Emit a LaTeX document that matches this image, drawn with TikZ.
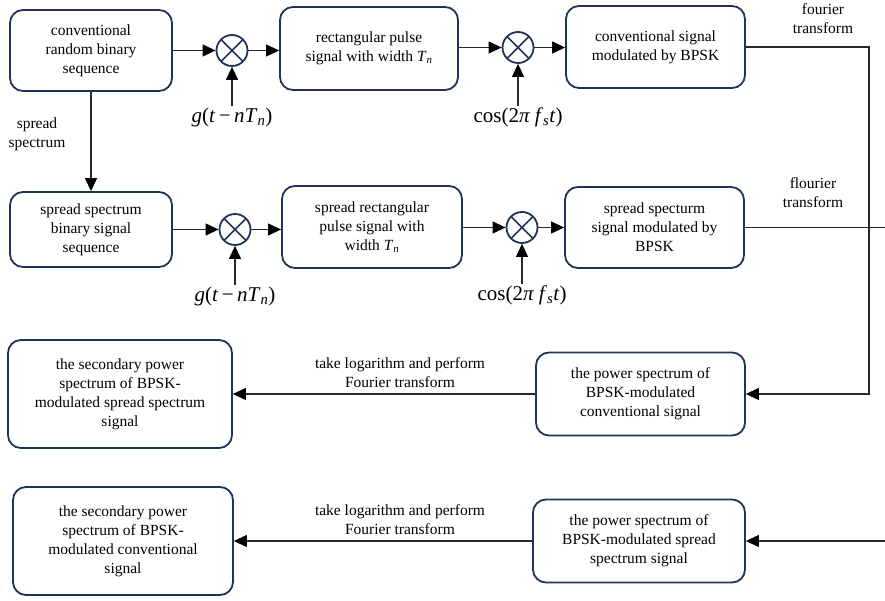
\documentclass[tikz,border=0pt]{standalone}
\usepackage{fontspec}
\setmainfont{Liberation Serif}
\newfontfamily\tnr{Liberation Serif}
\usetikzlibrary{arrows.meta}
\definecolor{navy}{RGB}{32,52,90}
\definecolor{linegray}{RGB}{40,40,40}
\begin{document}
\begin{tikzpicture}[x=1pt,y=-1pt,
  box/.style={draw=navy,line width=1.8pt,rounded corners=13pt,align=center,
    font=\tnr\fontsize{15.5}{19}\selectfont,inner sep=2pt},
  mult/.style={draw=navy,line width=1.8pt,circle,minimum size=31pt,inner sep=0pt,
    path picture={\draw[navy,line width=1.5pt]
      (path picture bounding box.north west)--(path picture bounding box.south east)
      (path picture bounding box.north east)--(path picture bounding box.south west);}},
  lbl/.style={align=center,font=\tnr\fontsize{15.5}{19}\selectfont,inner sep=1pt},
  mlbl/.style={font=\tnr\fontsize{21}{24}\selectfont,inner sep=1pt},
  conn/.style={draw=linegray,line width=1.1pt},
  arr/.style={conn,-{Triangle[length=13pt,width=12pt,fill=black,color=black]}}]
\useasboundingbox (0,0) rectangle (885,601);
% row 1
\node[box,minimum width=162pt,minimum height=81pt] (A) at (91,50.5) {conventional\\random binary\\sequence};
\node[mult] (m1) at (232,50.5) {};
\node[box,minimum width=178pt,minimum height=83pt] (B) at (369,48.5) {rectangular pulse\\signal with width \textit{T}\textsubscript{\textit{n}}};
\node[mult] (m2) at (518,47.5) {};
\node[box,minimum width=179pt,minimum height=82pt] (C) at (655.5,47) {conventional signal\\modulated by BPSK};
\node[mlbl] (g1) at (232,117) {\textit{g}(\textit{t}\,−\,\textit{nT}\textsubscript{\textit{n}})};
\node[mlbl] (c1) at (518,117) {cos(2\textit{π f}\textsubscript{\textit{s}}\textit{t})};
\node[lbl] (ft1) at (823,19) {fourier\\transform};
% row 2
\node[box,minimum width=162pt,minimum height=75pt] (D) at (91,229.5) {spread spectrum\\binary signal\\sequence};
\node[mult] (m3) at (235,229.5) {};
\node[box,minimum width=180pt,minimum height=82pt] (E) at (372,227) {spread rectangular\\pulse signal with\\width \textit{T}\textsubscript{\textit{n}}};
\node[mult] (m4) at (522,227.5) {};
\node[box,minimum width=179pt,minimum height=81pt] (F) at (654.5,227.5) {spread specturm\\signal modulated by\\BPSK};
\node[mlbl] (g2) at (235,296) {\textit{g}(\textit{t}\,−\,\textit{nT}\textsubscript{\textit{n}})};
\node[mlbl] (c2) at (522,295) {cos(2\textit{π f}\textsubscript{\textit{s}}\textit{t})};
\node[lbl] (ft2) at (813,193) {flourier\\transform};
\node[lbl] (ss) at (37,134) {spread\\spectrum};
% row 3
\node[box,minimum width=224pt,minimum height=108pt] (G) at (120,394) {the secondary power\\spectrum of BPSK-\\modulated spread spectrum\\signal};
\node[box,minimum width=209pt,minimum height=83pt] (H) at (640.5,394) {the power spectrum of\\BPSK-modulated\\conventional signal};
\node[lbl] (t1) at (400,373) {take logarithm and perform\\Fourier transform};
% row 4
\node[box,minimum width=220pt,minimum height=108pt] (I) at (123,541) {the secondary power\\spectrum of BPSK-\\modulated conventional\\signal};
\node[box,minimum width=212pt,minimum height=83pt] (J) at (639,541) {the power spectrum of\\BPSK-modulated spread\\spectrum signal};
\node[lbl] (t2) at (400,520) {take logarithm and perform\\Fourier transform};
% coordinates
\coordinate (r1) at (869,47);
\coordinate (r2) at (885,227.5);
\coordinate (r4) at (885,541);
% connectors
\draw[arr] (A.east |- m1) -- (m1);
\draw[arr] (m1) -- (m1 -| B.west);
\draw[arr] (B.east |- m2) -- (m2);
\draw[arr] (m2) -- (m2 -| C.west);
\draw[arr] (g1.north) -- (m1.south);
\draw[arr] (c1.north) -- (m2.south);
\draw[arr] (A.south) -- (D.north);
\draw[arr] (D.east |- m3) -- (m3);
\draw[arr] (m3) -- (m3 -| E.west);
\draw[arr] (E.east |- m4) -- (m4);
\draw[arr] (m4) -- (m4 -| F.west);
\draw[arr] (g2.north) -- (m3.south);
\draw[arr] (c2.north) -- (m4.south);
\draw[arr] (C.east |- r1) -- (r1) |- (H.east);
\draw[conn] (F.east |- r2) -- (r2);
\draw[arr] (H.west) -- (G.east |- H.west);
\draw[arr] (r4) -- (J.east);
\draw[arr] (J.west) -- (I.east |- J.west);
\end{tikzpicture}
\end{document}
